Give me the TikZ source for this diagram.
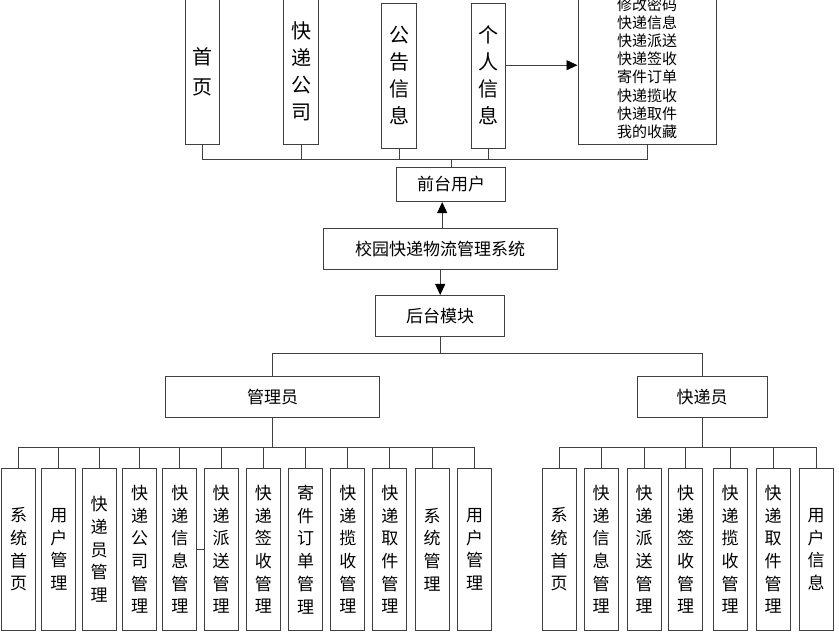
\documentclass[tikz,border=0pt]{standalone}
\usepackage{fontspec}
\setmainfont{Noto Sans CJK SC}
\usetikzlibrary{arrows.meta, positioning}

\begin{document}
\begin{tikzpicture}[
    x=1pt, y=-1pt,
    box/.style={rectangle, draw=black!75, line width=1pt, fill=white, inner sep=2pt, align=center},
    topbox/.style={box, minimum width=34.5pt, font=\fontsize{20}{27}\selectfont},
    midbox/.style={box, minimum height=41pt, font=\fontsize{17}{20}\selectfont},
    leaf/.style={box, minimum width=34pt, minimum height=161pt, font=\fontsize{17}{22.7}\selectfont},
    link/.style={draw=black!75, line width=0.9pt},
    arr/.style={link, -{Triangle[length=11pt, width=10pt, fill=black, color=black]}},
]
    \useasboundingbox (0,0) rectangle (839,636);
    \clip (0,0) rectangle (839,636);

    % System and its two parts
    \node[midbox, minimum width=233.7pt] (xy) at (440.2,248.7) {校园快递物流管理系统};
    \node[midbox, minimum width=109pt, minimum height=34.4pt, above=25.6pt of xy, xshift=10.8pt] (qt) {前台用户};
    \node[midbox, minimum width=129.3pt, below=25.3pt of xy] (hm) {后台模块};

    % Front pages
    \node[topbox, minimum height=147pt, font=\fontsize{20}{30}\selectfont] (sy) at (202.5,71.5) {首\\页};
    \node[topbox, minimum height=147pt] (kg) at (301,71.5) {快\\递\\公\\司};
    \node[topbox, minimum height=145.3pt] (gg) at (399,75.7) {公\\告\\信\\息};
    \node[topbox, minimum height=145.3pt] (gr) at (488.3,75.7) {个\\人\\信\\息};
    \node[box, minimum width=138pt, minimum height=154pt, font=\fontsize{15}{18.2}\selectfont] (xx) at (647,68)
        {修改密码\\快递信息\\快递派送\\快递签收\\寄件订单\\快递揽收\\快递取件\\我的收藏};

    % Roles
    \node[midbox, minimum width=213.6pt] (gly) at (272.5,396.7) {管理员};
    \node[midbox, minimum width=129.7pt] (kdy) at (702.2,396.7) {快递员};

    % Arrows
    \coordinate (xyn) at ([xshift=2pt]xy.north);
    \draw[arr] (xyn) -- (xyn |- qt.south);
    \draw[arr] (xy.south) -- (hm.north);
    \coordinate (gro) at ([yshift=10.5pt]gr.east);
    \draw[arr] (gro) -- (gro -| xx.west);

    % Front tree
    \foreach \n in {sy, kg, gg, gr, xx}
        \draw[link] (qt.north) -- ++(0,-7.3) -| (\n.south);

    % Back tree
    \foreach \n in {gly, kdy}
        \draw[link] (hm.south) -- ++(0,16.6) -| (\n.north);

    % Admin leaves
    \foreach \x/\t [count=\i] in {18.7/{系\\统\\首\\页}, 58.8/{用\\户\\管\\理}, 99.2/{快\\递\\员\\管\\理},
            139.7/{快\\递\\公\\司\\管\\理}, 179.8/{快\\递\\信\\息\\管\\理}, 221/{快\\递\\派\\送\\管\\理},
            263.3/{快\\递\\签\\收\\管\\理}, 305.5/{寄\\件\\订\\单\\管\\理}, 347.8/{快\\递\\揽\\收\\管\\理},
            389.8/{快\\递\\取\\件\\管\\理}, 432.2/{系\\统\\管\\理}, 474.5/{用\\户\\管\\理}} {
        \node[leaf] (a\i) at (\x,549.5) {\t};
        \draw[link] (gly.south) -- ++(0,29.4) -| (a\i.north);
    }
    \draw[link] (a5.east) -- (a6.west);

    % Courier leaves
    \foreach \x/\t [count=\i] in {559/{系\\统\\首\\页}, 601/{快\\递\\信\\息\\管\\理}, 644/{快\\递\\派\\送\\管\\理},
            685.7/{快\\递\\签\\收\\管\\理}, 730/{快\\递\\揽\\收\\管\\理}, 773/{快\\递\\取\\件\\管\\理},
            816/{用\\户\\信\\息}} {
        \node[leaf] (c\i) at (\x,549.5) {\t};
        \draw[link] (kdy.south) -- ++(0,29.4) -| (c\i.north);
    }
\end{tikzpicture}
\end{document}
